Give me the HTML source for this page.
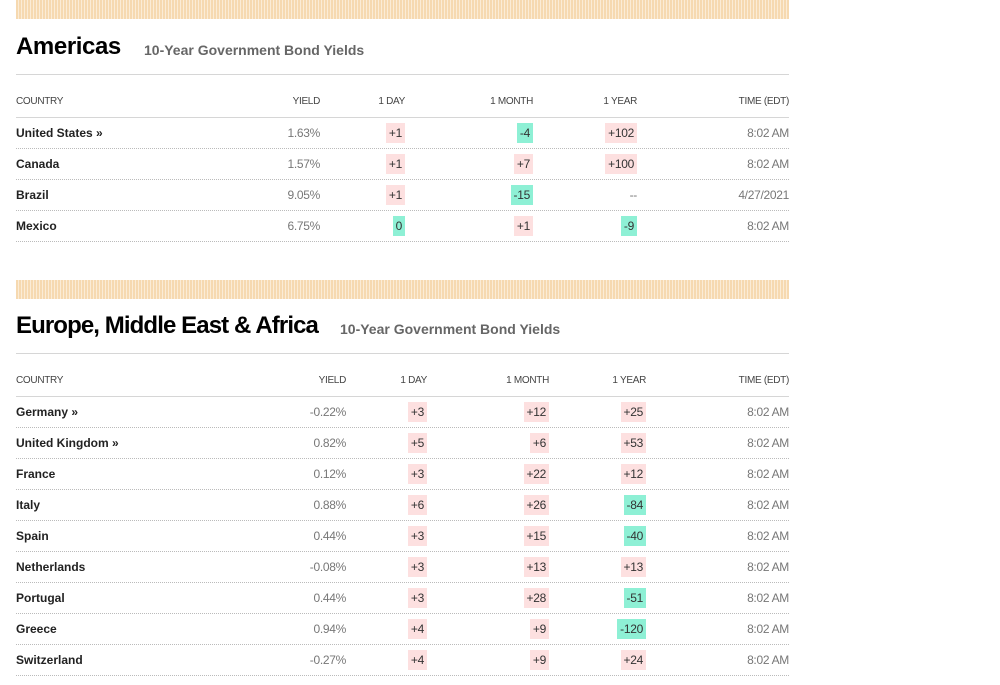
<!DOCTYPE html>
<html><head><style>
body{margin:0;width:1000px;height:685px;background:#fff;font-family:"Liberation Sans",Arial,sans-serif;position:relative;overflow:hidden}
.band{position:absolute;left:16px;width:773px;height:19px;background:repeating-linear-gradient(90deg,#f6d9b0 0 2px,#fbecd6 2px 3px)}
.t{position:absolute;left:16px;font-weight:bold;font-size:24px;color:#000;letter-spacing:-0.4px}
.st{position:absolute;font-weight:bold;font-size:14px;color:#666}
.hl{position:absolute;left:16px;width:773px;border-top:1px solid #d6d6d6}
.dl{position:absolute;left:16px;width:773px;border-top:1px dotted #bbb}
.h{position:absolute;font-size:10px;color:#444;height:14px;line-height:14px;letter-spacing:-0.3px}
.c{position:absolute;left:16px;font-size:12px;font-weight:bold;color:#222;height:18px;line-height:18px}
.v{position:absolute;font-size:12px;color:#777;height:18px;line-height:18px;text-align:right;letter-spacing:-0.3px}
.b{position:absolute;font-size:12px;color:#333;height:20px;line-height:20px;padding:0 3px;text-align:right;letter-spacing:-0.3px}
.p{background:#fde0e0}.g{background:#8ef0d5}
</style></head><body>
<div class="band" style="top:0"></div>
<div class="t" style="top:33px">Americas</div>
<div class="st" style="left:144px;top:42px">10-Year Government Bond Yields</div>
<div class="hl" style="top:74px"></div>
<div class="h" style="left:16px;top:95px">COUNTRY</div>
<div class="h" style="right:680px;top:95px">YIELD</div>
<div class="h" style="right:595px;top:95px">1 DAY</div>
<div class="h" style="right:467px;top:95px">1 MONTH</div>
<div class="h" style="right:363px;top:95px">1 YEAR</div>
<div class="h" style="right:211px;top:95px">TIME (EDT)</div>
<div class="hl" style="top:117px"></div>

<div class="c" style="top:124px">United States »</div><div class="v" style="right:680px;top:124px">1.63%</div><div class="b p" style="right:595px;top:123px">+1</div><div class="b g" style="right:467px;top:123px">-4</div><div class="b p" style="right:363px;top:123px">+102</div><div class="v" style="right:211px;top:124px">8:02 AM</div>
<div class="dl" style="top:148px"></div>
<div class="c" style="top:155px">Canada</div><div class="v" style="right:680px;top:155px">1.57%</div><div class="b p" style="right:595px;top:154px">+1</div><div class="b p" style="right:467px;top:154px">+7</div><div class="b p" style="right:363px;top:154px">+100</div><div class="v" style="right:211px;top:155px">8:02 AM</div>
<div class="dl" style="top:179px"></div>
<div class="c" style="top:186px">Brazil</div><div class="v" style="right:680px;top:186px">9.05%</div><div class="b p" style="right:595px;top:185px">+1</div><div class="b g" style="right:467px;top:185px">-15</div><div class="v" style="right:363px;top:186px">--</div><div class="v" style="right:211px;top:186px">4/27/2021</div>
<div class="dl" style="top:210px"></div>
<div class="c" style="top:217px">Mexico</div><div class="v" style="right:680px;top:217px">6.75%</div><div class="b g" style="right:595px;top:216px">0</div><div class="b p" style="right:467px;top:216px">+1</div><div class="b g" style="right:363px;top:216px">-9</div><div class="v" style="right:211px;top:217px">8:02 AM</div>
<div class="dl" style="top:241px"></div>

<div class="band" style="top:280px"></div>
<div class="t" style="top:312px;letter-spacing:-0.9px">Europe, Middle East &amp; Africa</div>
<div class="st" style="left:340px;top:321px">10-Year Government Bond Yields</div>
<div class="hl" style="top:353px"></div>
<div class="h" style="left:16px;top:374px">COUNTRY</div>
<div class="h" style="right:654px;top:374px">YIELD</div>
<div class="h" style="right:573px;top:374px">1 DAY</div>
<div class="h" style="right:451px;top:374px">1 MONTH</div>
<div class="h" style="right:354px;top:374px">1 YEAR</div>
<div class="h" style="right:211px;top:374px">TIME (EDT)</div>
<div class="hl" style="top:396px"></div>

<div class="c" style="top:403px">Germany »</div><div class="v" style="right:654px;top:403px">-0.22%</div><div class="b p" style="right:573px;top:402px">+3</div><div class="b p" style="right:451px;top:402px">+12</div><div class="b p" style="right:354px;top:402px">+25</div><div class="v" style="right:211px;top:403px">8:02 AM</div>
<div class="dl" style="top:427px"></div>
<div class="c" style="top:434px">United Kingdom »</div><div class="v" style="right:654px;top:434px">0.82%</div><div class="b p" style="right:573px;top:433px">+5</div><div class="b p" style="right:451px;top:433px">+6</div><div class="b p" style="right:354px;top:433px">+53</div><div class="v" style="right:211px;top:434px">8:02 AM</div>
<div class="dl" style="top:458px"></div>
<div class="c" style="top:465px">France</div><div class="v" style="right:654px;top:465px">0.12%</div><div class="b p" style="right:573px;top:464px">+3</div><div class="b p" style="right:451px;top:464px">+22</div><div class="b p" style="right:354px;top:464px">+12</div><div class="v" style="right:211px;top:465px">8:02 AM</div>
<div class="dl" style="top:489px"></div>
<div class="c" style="top:496px">Italy</div><div class="v" style="right:654px;top:496px">0.88%</div><div class="b p" style="right:573px;top:495px">+6</div><div class="b p" style="right:451px;top:495px">+26</div><div class="b g" style="right:354px;top:495px">-84</div><div class="v" style="right:211px;top:496px">8:02 AM</div>
<div class="dl" style="top:520px"></div>
<div class="c" style="top:527px">Spain</div><div class="v" style="right:654px;top:527px">0.44%</div><div class="b p" style="right:573px;top:526px">+3</div><div class="b p" style="right:451px;top:526px">+15</div><div class="b g" style="right:354px;top:526px">-40</div><div class="v" style="right:211px;top:527px">8:02 AM</div>
<div class="dl" style="top:551px"></div>
<div class="c" style="top:558px">Netherlands</div><div class="v" style="right:654px;top:558px">-0.08%</div><div class="b p" style="right:573px;top:557px">+3</div><div class="b p" style="right:451px;top:557px">+13</div><div class="b p" style="right:354px;top:557px">+13</div><div class="v" style="right:211px;top:558px">8:02 AM</div>
<div class="dl" style="top:582px"></div>
<div class="c" style="top:589px">Portugal</div><div class="v" style="right:654px;top:589px">0.44%</div><div class="b p" style="right:573px;top:588px">+3</div><div class="b p" style="right:451px;top:588px">+28</div><div class="b g" style="right:354px;top:588px">-51</div><div class="v" style="right:211px;top:589px">8:02 AM</div>
<div class="dl" style="top:613px"></div>
<div class="c" style="top:620px">Greece</div><div class="v" style="right:654px;top:620px">0.94%</div><div class="b p" style="right:573px;top:619px">+4</div><div class="b p" style="right:451px;top:619px">+9</div><div class="b g" style="right:354px;top:619px">-120</div><div class="v" style="right:211px;top:620px">8:02 AM</div>
<div class="dl" style="top:644px"></div>
<div class="c" style="top:651px">Switzerland</div><div class="v" style="right:654px;top:651px">-0.27%</div><div class="b p" style="right:573px;top:650px">+4</div><div class="b p" style="right:451px;top:650px">+9</div><div class="b p" style="right:354px;top:650px">+24</div><div class="v" style="right:211px;top:651px">8:02 AM</div>
<div class="dl" style="top:675px"></div>
</body></html>
